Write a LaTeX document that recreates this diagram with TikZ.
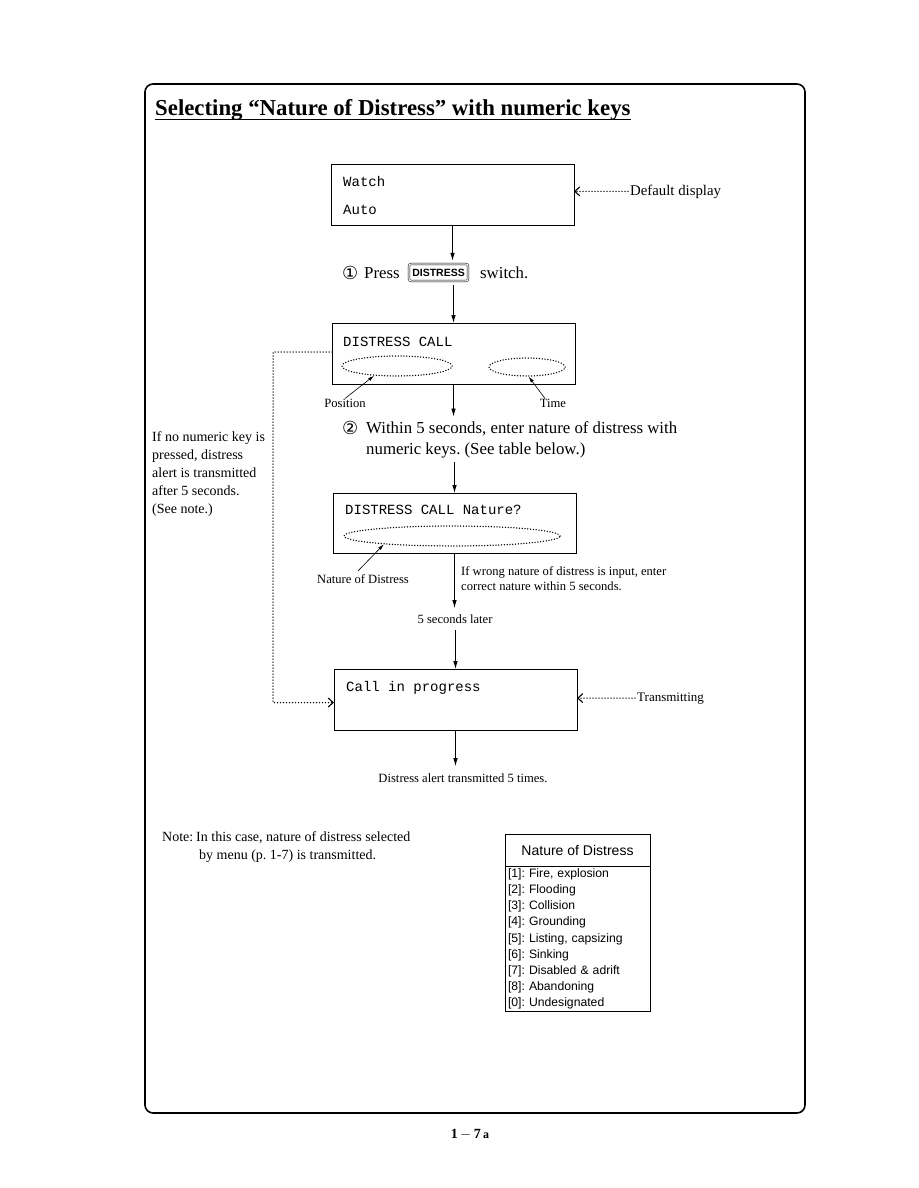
\documentclass[tikz,border=0pt]{standalone}
\usepackage{fontspec}
\setmainfont{Liberation Serif}
\setsansfont{Liberation Sans}
\setmonofont{Liberation Mono}
\newfontfamily\circfont{DejaVu Sans}
\frenchspacing
\usetikzlibrary{arrows.meta,positioning,calc,shapes.geometric}
\tikzset{
  outerframe/.style={draw=black, line width=1.6pt, rounded corners=8pt},
  lcdbox/.style={draw=black, line width=0.8pt, minimum width=243pt, minimum height=61pt, inner sep=0pt, outer sep=0pt},
  lcdtext/.style={font=\ttfamily\fontsize{14}{16}\selectfont, anchor=base west, inner sep=0pt},
  field/.style={draw=black, ellipse, dash pattern=on 0pt off 2.8pt, line cap=round, line width=1.5pt, inner sep=0pt},
  steptext/.style={font=\fontsize{16.8}{21}\selectfont, inner sep=0pt, align=left},
  stepnum/.style={font=\circfont\fontsize{18}{20}\selectfont, inner sep=0pt, anchor=base west},
  note/.style={font=\fontsize{14}{18}\selectfont, inner sep=0pt, align=left},
  small/.style={font=\fontsize{12.6}{15}\selectfont, inner sep=0pt, align=left},
  keycap/.style={draw=black, double, double distance=1.1pt, line width=0.5pt, rounded corners=2pt, font=\sffamily\bfseries\fontsize{10.5}{11}\selectfont, minimum width=59pt, minimum height=17pt, inner sep=0pt},
  tablehead/.style={draw=black, line width=0.8pt, minimum width=145pt, minimum height=32pt, inner sep=0pt, outer sep=0pt, font=\sffamily\fontsize{14}{16}\selectfont},
  tablebody/.style={draw=black, line width=0.8pt, text width=139pt, inner xsep=3pt, inner ysep=2.8pt, outer sep=0pt, align=left, font=\sffamily\fontsize{12.2}{16.1}\selectfont},
  arrow/.style={-{Latex[length=8pt,width=4.5pt]}, line width=0.8pt},
  thinarrow/.style={-{Latex[length=6pt,width=3.5pt]}, line width=0.6pt},
  dottedarrow/.style={-{Straight Barb[length=5pt,width=9pt,line width=1.1pt]}, dash pattern=on 0pt off 3pt, line cap=round, line width=1.5pt}
}
\begin{document}
\begin{tikzpicture}[x=1pt,y=-1pt]
\useasboundingbox (0,0) rectangle (918,1188);
\fill[white] (0,0) rectangle (918,1188);
\draw[outerframe] (145,84) rectangle (805,1113);

\node[inner sep=0pt, anchor=base west, font=\bfseries\fontsize{22.8}{26}\selectfont] (title) at (155,116) {Selecting “Nature of Distress” with numeric keys};
\draw[line width=1.1pt] ($(title.base west)+(0,3.5)$) -- ($(title.base east)+(0,3.5)$);

\node[lcdbox] (watchbox) at (452.5,194.5) {};
\node[lcdtext] (watch) at (343,186) {Watch};
\node[lcdtext] (auto) at (343,214) {Auto};
\node[note, anchor=base west, font=\fontsize{14.8}{18}\selectfont] (deflabel) at (630,195) {Default display};
\draw[dottedarrow, shorten <=2pt] (deflabel.west) -- (deflabel.west -| watchbox.east);

\node[stepnum] (one) at (342,279) {①};
\node[steptext, anchor=base west] (press) at (364,278) {Press};
\node[keycap] (key) at (438.5,272.5) {DISTRESS};
\node[steptext, anchor=base west] (switch) at (480,278) {switch.};
\draw[arrow] (watchbox.south) -- ($(watchbox.south |- key.north)+(0,-3)$);

\node[lcdbox] (callbox) at (453.5,353.5) {};
\node[lcdtext] (call) at (343,346) {DISTRESS CALL};
\node[field, minimum width=110pt, minimum height=20pt] (posfield) at (397,366) {};
\node[field, minimum width=76pt, minimum height=18pt] (timefield) at (527,367) {};
\draw[arrow] ($(callbox.north |- key.south)+(0,4)$) -- (callbox.north);
\node[small, anchor=base] (poslabel) at (345,407) {Position};
\node[small, anchor=base] (timelabel) at (553,407) {Time};
\draw[thinarrow] (poslabel.north) -- (posfield.203);
\draw[thinarrow] ($(timelabel.north)+(-8,0)$) -- (timefield.280);

\node[stepnum] (two) at (342,434) {②};
\node[steptext, anchor=north west] (within) at (366,421.5) {Within 5 seconds, enter nature of distress with\\numeric keys. (See table below.)};
\draw[arrow] (callbox.south) -- ($(callbox.south |- within.north)+(0,-5)$);

\node[lcdbox, minimum height=60pt] (naturebox) at (454.5,523) {};
\node[lcdtext] (nature) at (345,514) {DISTRESS CALL Nature?};
\node[field, minimum width=216pt, minimum height=20pt] (naturefield) at (452,536) {};
\draw[arrow] ($(naturebox.north |- within.south)+(0,4)$) -- (naturebox.north);
\node[small, anchor=base] (natlabel) at (363,583) {Nature of Distress};
\draw[thinarrow] ($(natlabel.north)+(-5,-3)$) -- (naturefield.187);

\node[small, anchor=north west] (wrong) at (461,566.5) {If wrong nature of distress is input, enter\\correct nature within 5 seconds.};
\node[small, anchor=base] (later) at (455,623) {5 seconds later};
\draw[arrow] (naturebox.south) -- ($(naturebox.south |- later.north)+(0,-6)$);

\node[lcdbox] (progressbox) at (455.5,699.5) {};
\node[lcdtext] (progress) at (346,691) {Call in progress};
\draw[arrow] ($(progressbox.north |- later.south)+(0,7)$) -- (progressbox.north);
\node[note, anchor=base west, font=\fontsize{13}{16}\selectfont] (txlabel) at (637,701) {Transmitting};
\draw[dottedarrow, shorten <=2pt] (txlabel.west) -- (txlabel.west -| progressbox.east);

\node[small, anchor=base] (fivetimes) at (463,782) {Distress alert transmitted 5 times.};
\draw[arrow] (progressbox.south) -- ($(progressbox.south |- fivetimes.north)+(0,-7)$);

\node[note, anchor=north west] (nokey) at (152,431) {If no numeric key is\\pressed, distress\\alert is transmitted\\after 5 seconds.\\(See note.)};
\draw[dottedarrow] ($(callbox.west)+(0,-1.5)$) -- ++(-59,0) |- ($(progressbox.west)+(0,3)$);

\node[note, anchor=base west] (notehead) at (162,841) {Note:};
\node[note, anchor=north west] (notetext) at (196,831.5) {In this case, nature of distress selected\\\hspace*{3pt}by menu (p. 1-7) is transmitted.};

\node[tablehead] (tablehead) at (577.5,850) {Nature of Distress};
\node[tablebody, below=0pt of tablehead] (tablerows) {{[1]}: Fire, explosion\\{[2]}: Flooding\\{[3]}: Collision\\{[4]}: Grounding\\{[5]}: Listing, capsizing\\{[6]}: Sinking\\{[7]}: Disabled \& adrift\\{[8]}: Abandoning\\{[0]}: Undesignated};

\node[inner sep=0pt, anchor=base, font=\bfseries\fontsize{14}{16}\selectfont] (pageno) at (470,1138) {1\,$-$\,7\,{\fontsize{12}{14}\selectfont a}};
\end{tikzpicture}
\end{document}
